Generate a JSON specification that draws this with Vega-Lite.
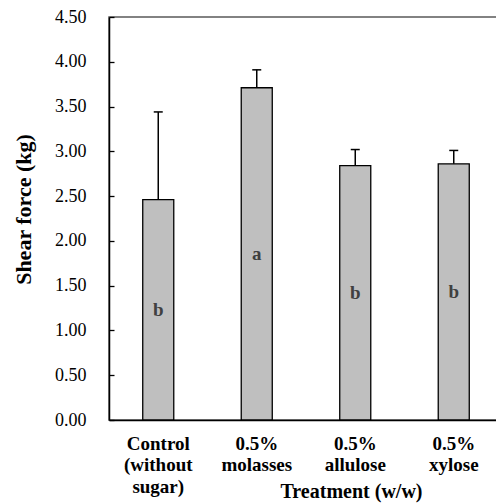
{
  "$schema": "https://vega.github.io/schema/vega-lite/v6.json",
  "width": 394,
  "height": 403,
  "autosize": {"type": "none"},
  "padding": {"left": 109, "top": 17, "right": 0, "bottom": 83},
  "background": "white",
  "config": {
    "view": {"stroke": "#595959", "strokeWidth": 1.5},
    "font": "Liberation Serif"
  },
  "data": {
    "values": [
      {"treatment": "Control|(without|sugar)", "mean": 2.46, "upper": 3.44, "letter": "b"},
      {"treatment": "0.5%|molasses", "mean": 3.71, "upper": 3.91, "letter": "a"},
      {"treatment": "0.5%|allulose", "mean": 2.84, "upper": 3.02, "letter": "b"},
      {"treatment": "0.5%|xylose", "mean": 2.86, "upper": 3.01, "letter": "b"}
    ]
  },
  "encoding": {
    "x": {
      "field": "treatment",
      "type": "nominal",
      "sort": null,
      "scale": {"paddingInner": 0.685, "paddingOuter": 0.3425},
      "axis": {
        "title": "Treatment (w/w)",
        "titleFont": "Liberation Serif",
        "titleFontSize": 20,
        "titleFontWeight": "bold",
        "titleColor": "black",
        "titleX": 242,
        "titleY": 77,
        "titleBaseline": "alphabetic",
        "titleAlign": "center",
        "labelExpr": "split(datum.label, '|')",
        "labelAngle": 0,
        "labelFont": "Liberation Serif",
        "labelFontSize": 19,
        "labelFontWeight": "bold",
        "labelColor": "black",
        "labelLineHeight": 21.5,
        "labelPadding": 14,
        "labelBaseline": "top",
        "ticks": false,
        "domainColor": "black",
        "domainWidth": 1.5
      }
    }
  },
  "layer": [
    {
      "mark": {"type": "bar", "fill": "#bfbfbf", "stroke": "black", "strokeWidth": 1.3},
      "encoding": {
        "y": {
          "field": "mean",
          "type": "quantitative",
          "scale": {"domain": [0, 4.5]},
          "axis": {
            "title": "Shear force (kg)",
            "titleFont": "Liberation Serif",
            "titleFontSize": 22,
            "titleFontWeight": "bold",
            "titleColor": "black",
            "titleX": -86,
            "titleY": 192,
            "titleAlign": "center",
            "titleBaseline": "middle",
            "titleAngle": -90,
            "values": [0, 0.5, 1, 1.5, 2, 2.5, 3, 3.5, 4, 4.5],
            "format": ".2f",
            "labelFont": "Liberation Serif",
            "labelFontSize": 18,
            "labelColor": "black",
            "labelPadding": 28,
            "tickSize": -5,
            "tickColor": "black",
            "tickWidth": 1.3,
            "domainColor": "black",
            "domainWidth": 1.5,
            "grid": false
          }
        }
      }
    },
    {
      "mark": {"type": "rule", "stroke": "black", "strokeWidth": 1.5},
      "encoding": {
        "y": {"field": "mean", "type": "quantitative"},
        "y2": {"field": "upper"}
      }
    },
    {
      "mark": {"type": "tick", "color": "black", "size": 9, "thickness": 1.5, "opacity": 1},
      "encoding": {
        "y": {"field": "upper", "type": "quantitative"}
      }
    },
    {
      "transform": [{"calculate": "datum.mean / 2", "as": "labelY"}],
      "mark": {"type": "text", "font": "Liberation Serif", "fontSize": 19, "fontWeight": "bold", "color": "#404040", "baseline": "middle"},
      "encoding": {
        "y": {"field": "labelY", "type": "quantitative"},
        "text": {"field": "letter"}
      }
    }
  ]
}
